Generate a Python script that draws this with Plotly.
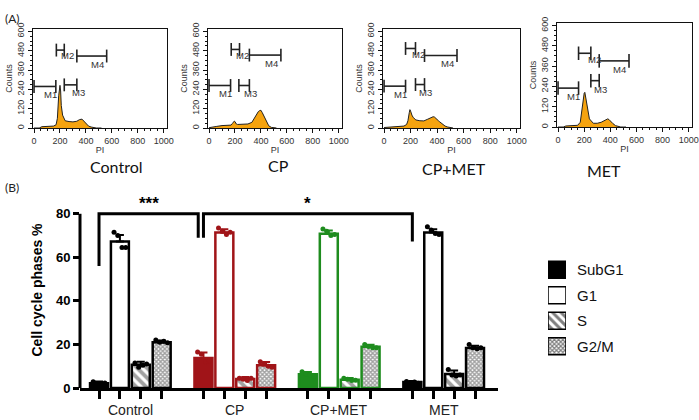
import plotly.graph_objects as go

W, H = 699, 420

# ---------------- Panel A: flow cytometry histograms ----------------
PANELS = ["Control", "CP", "CP+MET", "MET"]
PI_BINS = [0, 40, 60, 100, 150, 170, 180, 190, 195, 200, 205, 210, 220, 240, 270,
           300, 330, 350, 370, 380, 390, 400, 410, 420, 440, 460, 480, 500, 520]
COUNTS_CONTROL = [0, 0, 8, 10, 12, 20, 60, 200, 255, 265, 230, 140, 80, 45, 40,
                  38, 42, 52, 55, 45, 35, 25, 18, 12, 6, 2, 0, 0, 0]
COUNTS_CP = [2, 5, 10, 15, 15, 18, 28, 40, 43, 40, 32, 25, 22, 22, 24,
             25, 35, 62, 92, 102, 108, 110, 96, 80, 45, 14, 4, 0, 0]
COUNTS_CPMET = [3, 5, 6, 8, 12, 22, 45, 95, 114, 105, 90, 80, 65, 50, 45,
                44, 55, 65, 70, 68, 62, 55, 45, 38, 22, 12, 6, 2, 0]
COUNTS_MET = [0, 0, 6, 8, 10, 28, 90, 165, 190, 200, 205, 185, 140, 48, 22,
              22, 28, 38, 46, 48, 44, 35, 27, 20, 8, 2, 0, 0, 0]
HIST_COUNTS = [COUNTS_CONTROL, COUNTS_CP, COUNTS_CPMET, COUNTS_MET]

GATE_NAMES = ["M1", "M2", "M3", "M4"]
GATE_START = [[0, 172, 233, 330], [0, 171, 230, 311], [0, 162, 237, 305], [0, 157, 251, 315]]
GATE_END = [[168, 233, 330, 560], [166, 235, 311, 554], [162, 237, 305, 550], [157, 251, 315, 543]]
GATE_LEVEL = [[258, 484, 268, 447], [264, 488, 264, 453], [260, 494, 270, 450], [230, 436, 274, 391]]

PI_TICKS = [0, 200, 400, 600, 800, 1000]
COUNT_TICKS = [0, 120, 240, 360, 480, 600]

# ---------------- Panel B: cell cycle phases ----------------
GROUPS = ["Control", "CP", "CP+MET", "MET"]
PHASES = ["SubG1", "G1", "S", "G2/M"]
MEAN_CONTROL = [2.2, 67.3, 10.7, 21.0]
MEAN_CP = [13.8, 71.4, 4.1, 10.4]
MEAN_CPMET = [6.3, 70.8, 3.8, 18.9]
MEAN_MET = [2.7, 71.4, 6.4, 18.4]
SD_CONTROL = [0.8, 3.0, 1.3, 0.8]
SD_CP = [2.5, 1.5, 1.0, 1.5]
SD_CPMET = [1.0, 1.5, 0.8, 1.0]
SD_MET = [0.5, 1.5, 1.6, 1.0]
REPS_CONTROL = [[2.9, 1.6, 1.8, 2.3], [71.5, 70.0, 64.5, 64.5], [11.5, 9.5, 10.5, 11.0], [22.0, 21.0, 21.5, 20.8]]
REPS_CP = [[16.5, 15.5, 12.0, 12.5], [73.5, 72.0, 70.5, 71.5], [4.5, 4.0, 3.5, 4.5], [12.0, 11.0, 10.0, 9.5]]
REPS_CPMET = [[7.5, 6.5, 6.0, 5.5], [73.0, 72.0, 70.0, 70.5], [4.5, 4.0, 3.5, 3.6], [20.0, 19.0, 18.5, 18.5]]
REPS_MET = [[3.0, 2.5, 2.8, 2.2], [74.0, 72.5, 71.0, 70.5], [8.5, 6.0, 5.5, 6.0], [20.0, 18.5, 18.0, 18.5]]
MEANS = [MEAN_CONTROL, MEAN_CP, MEAN_CPMET, MEAN_MET]
SDS = [SD_CONTROL, SD_CP, SD_CPMET, SD_MET]
REPS = [REPS_CONTROL, REPS_CP, REPS_CPMET, REPS_MET]
Y_TICKS = [0, 20, 40, 60, 80]

SIG_LABELS = ["***", "*"]
SIG_FROM_BAR = [0, 5]
SIG_TO_BAR = [5, 15]
SIG_LEFT_LEVEL = [56, 69]
SIG_RIGHT_LEVEL = [69, 67.3]
SIG_TOP = 80

# ---------------- styling ----------------
GROUP_COLORS = ["#000000", "#A01418", "#1E8C1E", "#000000"]
HIST_FILL = "#F5A30F"
FONT = "Liberation Sans"
GROUP_STEP = 5
BAR_W = 0.86
JITTER = [-0.28, -0.1, 0.1, 0.28]


def dx(a, b):
    return [a / W, b / W]


def dy(top, bottom):
    return [1 - bottom / H, 1 - top / H]


fig = go.Figure()
layout = dict(
    width=W, height=H, margin=dict(l=0, r=0, t=0, b=0),
    paper_bgcolor="white", plot_bgcolor="white", showlegend=False,
    barmode="overlay", font=dict(family=FONT, color="#222"),
)

hist_x = [(33, 167), (208, 342), (383, 520), (557, 692)]
hist_y = [(29, 128), (29, 128), (29, 128), (23, 127)]
title_pos = [(88, 167), (278, 166), (454, 168), (623, 170)]

annotations = []
shapes = []

for p in range(4):
    k = p + 1
    xa, ya = f"x{k}", f"y{k}"
    fig.add_trace(go.Scatter(
        x=PI_BINS, y=HIST_COUNTS[p], mode="lines", fill="tozeroy",
        fillcolor=HIST_FILL, line=dict(color="#222", width=1),
        xaxis=xa, yaxis=ya, hoverinfo="skip"))
    gx, gy = [], []
    for g in range(4):
        a, b, lv = GATE_START[p][g], GATE_END[p][g], GATE_LEVEL[p][g]
        hh = 40
        gx += [a, a, None, a, b, None, b, b, None]
        gy += [lv - hh, lv + hh, None, lv, lv, None, lv - hh, lv + hh, None]
    fig.add_trace(go.Scatter(x=gx, y=gy, mode="lines",
                             line=dict(color="#222", width=1.6),
                             xaxis=xa, yaxis=ya, hoverinfo="skip"))
    label_off = [(-40, -50), (25, -35), (10, -50), (-70, -50)]
    for g in range(4):
        ox, oy = label_off[g]
        annotations.append(dict(
            x=GATE_END[p][g] + ox, y=GATE_LEVEL[p][g] + oy, xref=xa, yref=ya,
            text=GATE_NAMES[g], showarrow=False, font=dict(size=9.5, color="#333")))
    layout[f"xaxis{k}"] = dict(
        domain=dx(*hist_x[p]), anchor=ya, range=[-8, 1025],
        showline=True, mirror=True, linecolor="#111", linewidth=1,
        ticks="outside", ticklen=4, tickcolor="#111", tickvals=PI_TICKS,
        tickfont=dict(size=9, color="#333"),
        minor=dict(ticks="outside", ticklen=2, tickmode="linear", tick0=0, dtick=50, tickcolor="#111"),
        title=dict(text="PI", font=dict(size=9, color="#333"), standoff=1),
        showgrid=False, zeroline=False, automargin=False)
    layout[f"yaxis{k}"] = dict(
        domain=dy(*hist_y[p]), anchor=xa, range=[0, 615],
        showline=True, mirror=True, linecolor="#111", linewidth=1,
        ticks="outside", ticklen=4, tickcolor="#111", tickvals=COUNT_TICKS,
        tickangle=-90, tickfont=dict(size=9, color="#333"),
        minor=dict(ticks="outside", ticklen=2, tickmode="linear", tick0=0, dtick=30, tickcolor="#111"),
        title=dict(text="Counts", font=dict(size=9, color="#333"), standoff=2),
        showgrid=False, zeroline=False, automargin=False)
    tx, ty = title_pos[p]
    annotations.append(dict(x=tx / W, y=1 - ty / H, xref="paper", yref="paper",
                            text=PANELS[p], showarrow=False,
                            font=dict(family="Lato", size=16, color="#111")))

annotations.append(dict(x=3 / W, y=1 - 9 / H, xref="paper", yref="paper", text="(A)",
                        showarrow=False, xanchor="left", font=dict(family="Lato", size=12, color="#222")))
annotations.append(dict(x=3 / W, y=1 - 187 / H, xref="paper", yref="paper", text="(B)",
                        showarrow=False, xanchor="left", font=dict(family="Lato", size=12, color="#222")))

# ---------------- Panel B bars ----------------
shape_list = ["", "", "\\", "x"]
all_ticks = []
for g in range(4):
    c = GROUP_COLORS[g]
    xs = [g * GROUP_STEP + i for i in range(4)]
    all_ticks += xs
    fig.add_trace(go.Bar(
        x=xs, y=MEANS[g], width=BAR_W, xaxis="x5", yaxis="y5",
        marker=dict(
            color=[c, "white", "white", "white"],
            line=dict(color=c, width=2.5),
            pattern=dict(shape=shape_list, fgcolor=c, bgcolor="white",
                         size=[8, 8, 7, 3], solidity=[0.3, 0.3, 0.55, 0.7])),
        error_y=dict(type="data", array=SDS[g], arrayminus=[0] * 4, symmetric=False,
                     color=c, thickness=2, width=4),
        hoverinfo="skip"))
for g in range(4):
    c = GROUP_COLORS[g]
    dxs, dys = [], []
    for i in range(4):
        for j, v in enumerate(REPS[g][i]):
            dxs.append(g * GROUP_STEP + i + JITTER[j])
            dys.append(v)
    fig.add_trace(go.Scatter(x=dxs, y=dys, mode="markers", xaxis="x5", yaxis="y5",
                             marker=dict(color=c, size=5), hoverinfo="skip"))

# significance brackets
for s in range(2):
    xl = SIG_FROM_BAR[s]
    xr = SIG_TO_BAR[s] - (0.25 if s == 0 else 0)
    fig.add_trace(go.Scatter(
        x=[xl, xl, xr, xr], y=[SIG_LEFT_LEVEL[s], SIG_TOP, SIG_TOP, SIG_RIGHT_LEVEL[s]],
        mode="lines", line=dict(color="black", width=3), xaxis="x5", yaxis="y5",
        hoverinfo="skip"))
    annotations.append(dict(x=(xl + xr) / 2, y=SIG_TOP, xref="x5", yref="y5",
                            text="<b>" + SIG_LABELS[s] + "</b>", showarrow=False,
                            yanchor="bottom", yshift=-1,
                            font=dict(size=17, color="black", family=FONT)))

layout["xaxis5"] = dict(
    domain=dx(80, 498), anchor="y5", range=[-0.91, 19.1],
    showline=True, linecolor="black", linewidth=3,
    ticks="outside", ticklen=8, tickwidth=2.5, tickcolor="black",
    tickvals=all_ticks, ticktext=[""] * len(all_ticks),
    showgrid=False, zeroline=False, automargin=False)
layout["yaxis5"] = dict(
    domain=dy(192, 388), anchor="x5", range=[0, 90],
    showline=False, ticks="outside", ticklen=6, tickwidth=2.5, tickcolor="black",
    tickvals=Y_TICKS, tickfont=dict(size=13, color="black", weight="bold"),
    title=dict(text="Cell cycle phases %", font=dict(size=14, color="black", weight="bold"),
               standoff=10),
    showgrid=False, zeroline=False, automargin=False)
shapes.append(dict(type="line", xref="paper", yref="y5", x0=80 / W, x1=80 / W, y0=0, y1=80,
                   line=dict(color="black", width=3)))

for g in range(4):
    annotations.append(dict(x=g * GROUP_STEP + 1.5, y=0, xref="x5", yref="paper",
                            text=GROUPS[g], showarrow=False, yanchor="bottom",
                            font=dict(size=14, color="#222", family=FONT)))

# ---------------- legend ----------------
leg_colors = ["black", "white", "white", "white"]
leg_sizes = [8, 8, 6, 3]
leg_solid = [0.5, 0.5, 0.5, 0.65]
for i in range(4):
    fig.add_trace(go.Bar(
        x=[0.5], y=[0.66], base=[i - 0.33], width=[1], xaxis="x6", yaxis="y6",
        marker=dict(color=leg_colors[i], line=dict(color="black", width=1.5),
                    pattern=dict(shape=shape_list[i], fgcolor="black", bgcolor="white",
                                 size=leg_sizes[i], solidity=leg_solid[i])),
        hoverinfo="skip"))
    annotations.append(dict(x=575 / W, y=i, xref="paper", yref="y6", text=PHASES[i],
                            showarrow=False, xanchor="left",
                            font=dict(size=15, color="#111", family=FONT)))
layout["xaxis6"] = dict(domain=dx(548, 566), anchor="y6", range=[0, 1], visible=False)
layout["yaxis6"] = dict(domain=dy(257, 359), anchor="x6", range=[3.5, -0.5], visible=False)

layout["annotations"] = annotations
layout["shapes"] = shapes
fig.update_layout(**layout)
fig.write_html("out.html", config={"displayModeBar": False},
               post_script="document.body.style.margin='0';document.body.style.overflow='hidden';")
